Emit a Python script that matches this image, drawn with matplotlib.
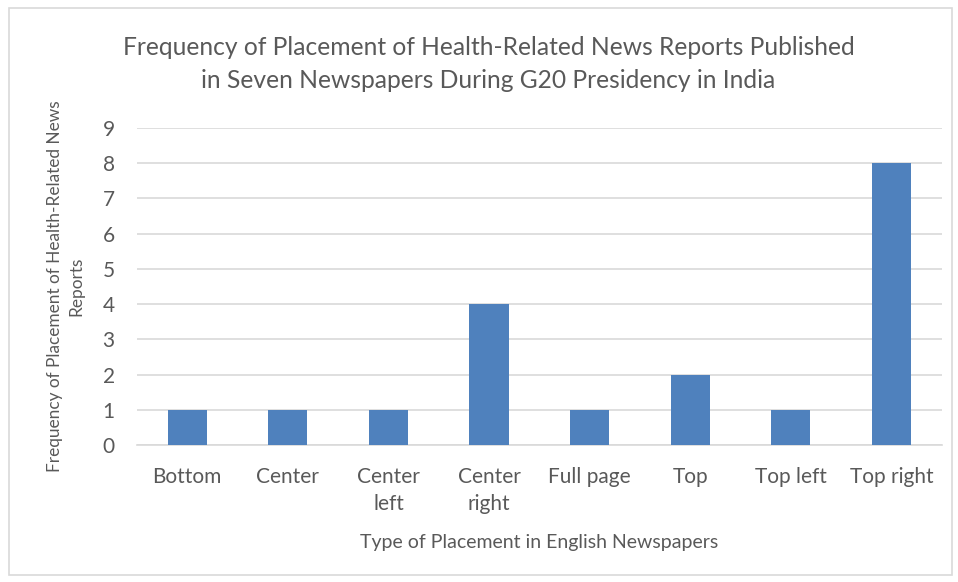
import matplotlib.pyplot as plt
from matplotlib.patches import Rectangle

placements = ['Bottom', 'Center', 'Center\nleft', 'Center\nright', 'Full page',
              'Top', 'Top left', 'Top right']
frequency = [1, 1, 1, 4, 1, 2, 1, 8]

plt.rcParams['font.family'] = ['Lato', 'DejaVu Sans']
text_color = '#595959'

fig = plt.figure(figsize=(9.58, 5.82), dpi=100)
ax = fig.add_axes([0.143, 0.2354, 0.840, 0.545])

# light chart border
fig.patches.append(Rectangle((0.009, 0.012), 0.985, 0.975, transform=fig.transFigure,
                             fill=False, edgecolor='#d9d9d9', linewidth=1.2))

x = range(len(placements))
ax.bar(x, frequency, width=0.39, color='#4f81bd', zorder=3)

ax.set_xlim(-0.5, len(placements) - 0.5)
ax.set_ylim(0, 9)
ax.set_yticks(range(0, 10))
ax.set_xticks(list(x))
ax.set_xticklabels(placements, fontsize=15, color=text_color, linespacing=1.45)
ax.tick_params(axis='y', labelsize=15, labelcolor=text_color, length=0, pad=16)
ax.tick_params(axis='x', length=0, pad=16)
ax.grid(axis='y', color='#d9d9d9', linewidth=1.2, zorder=0)
for side in ['top', 'right', 'left']:
    ax.spines[side].set_visible(False)
ax.spines['bottom'].set_color('#d9d9d9')
ax.spines['bottom'].set_linewidth(1.2)

ax.set_xlabel('Type of Placement in English Newspapers', fontsize=14, color=text_color, labelpad=14)
ax.set_ylabel('Frequency of Placement of Health-Related News\nReports', fontsize=12.4,
              color=text_color, labelpad=13, linespacing=1.45)
fig.text(0.51, 0.89, 'Frequency of Placement of Health-Related News Reports Published\n'
         'in Seven Newspapers During G20 Presidency in India',
         ha='center', va='center', fontsize=17.7, color=text_color, linespacing=1.55)

plt.savefig('out.png', dpi=100)
